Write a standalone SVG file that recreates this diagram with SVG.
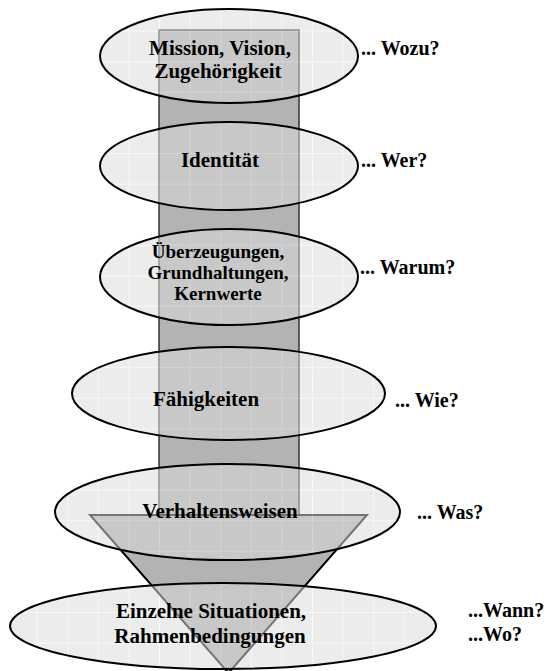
<svg xmlns="http://www.w3.org/2000/svg" width="547" height="671" viewBox="0 0 547 671">
<defs>
<pattern id="grid" patternUnits="userSpaceOnUse" x="6" y="0" width="30.6" height="30.6">
<rect width="30.6" height="30.6" fill="#dbdbdb"/>
<path d="M0 0.5H30.6M0.5 0V30.6" stroke="#ffffff" stroke-opacity="0.6" stroke-width="1" fill="none"/>
</pattern>
</defs>
<style>
.shaft{fill:#b3b3b3;stroke:#333333;stroke-width:1.5}
.head{fill:#b3b3b3;stroke:#000000;stroke-width:2}
.ell{fill:url(#grid);fill-opacity:0.53;stroke:#000000;stroke-width:2}
.t{font-family:"Liberation Serif","Times New Roman",serif;font-weight:bold;font-size:21px;fill:#000000}
.m{text-anchor:middle}
</style>
<g id="connectors">
<rect class="shaft" x="159" y="30" width="140" height="485"/>
<polygon class="head" points="90,515 367,515 228.5,673"/>
</g>
<g id="n1">
<ellipse class="ell" cx="229" cy="56" rx="129" ry="47"/>
<text class="t m" x="220" y="55">Mission, Vision,</text>
<text class="t m" x="218" y="78">Zugehörigkeit</text>
</g>
<g id="n2">
<ellipse class="ell" cx="229" cy="166" rx="129" ry="44"/>
<text class="t m" x="220" y="167">Identität</text>
</g>
<g id="n3">
<ellipse class="ell" cx="229" cy="277" rx="129" ry="48"/>
<text class="t m" x="218" y="258" style="font-size:19px">Überzeugungen,</text>
<text class="t m" x="218" y="279" style="font-size:19px">Grundhaltungen,</text>
<text class="t m" x="218" y="300" style="font-size:19px">Kernwerte</text>
</g>
<g id="n4">
<ellipse class="ell" cx="228.5" cy="393.5" rx="156.5" ry="46.5"/>
<text class="t m" x="206" y="406">Fähigkeiten</text>
</g>
<g id="n5">
<ellipse class="ell" cx="227.5" cy="512" rx="172.5" ry="48"/>
<text class="t m" x="220" y="518">Verhaltensweisen</text>
</g>
<g id="n6">
<ellipse class="ell" cx="223" cy="626" rx="213" ry="43"/>
<text class="t m" x="211" y="618">Einzelne Situationen,</text>
<text class="t m" x="210" y="643">Rahmenbedingungen</text>
</g>
<g id="labels">
<text class="t" x="361" y="55" style="font-size:20px">... Wozu?</text>
<text class="t" x="361" y="167" style="font-size:20px">... Wer?</text>
<text class="t" x="360" y="274" style="font-size:20px">... Warum?</text>
<text class="t" x="395" y="407" style="font-size:20px">... Wie?</text>
<text class="t" x="417" y="519" style="font-size:20px">... Was?</text>
<text class="t" x="468" y="617" style="font-size:20px">...Wann?</text>
<text class="t" x="468" y="641" style="font-size:20px">...Wo?</text>
</g>
</svg>
